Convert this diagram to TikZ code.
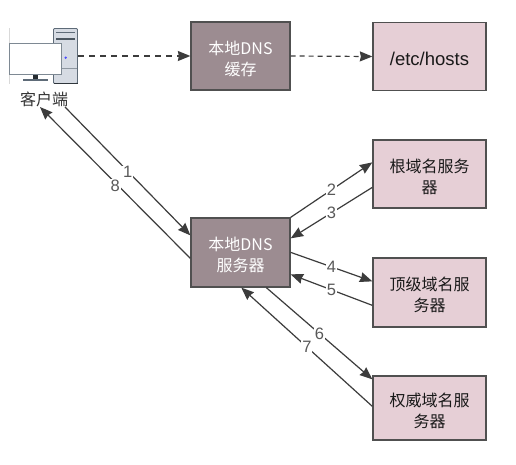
\documentclass[tikz,border=0pt]{standalone}
\usepackage{fontspec}
\setmainfont{Liberation Sans}
\newfontfamily\cjk{Noto Sans CJK SC}
\usetikzlibrary{arrows.meta,calc}
\definecolor{darkbox}{HTML}{9C8C91}
\definecolor{lightbox}{HTML}{E6CFD6}
\definecolor{edge}{HTML}{505050}
\definecolor{wire}{HTML}{3C3C3C}
\definecolor{tower}{HTML}{D6DBE3}
\definecolor{iconline}{HTML}{5E6B78}
\newcommand{\dropstrut}{\rule{0pt}{19pt}}
\tikzset{
  x=1pt,y=-1pt,
  dark/.style={draw=edge,line width=1.3pt,fill=darkbox,text=white,minimum width=99pt,minimum height=68pt,align=center,font=\cjk\fontsize{16}{21}\selectfont,inner sep=0pt},
  light/.style={draw=edge,line width=1.3pt,fill=lightbox,text=black!90,minimum width=113pt,minimum height=68pt,align=center,font=\cjk\fontsize{16}{21}\selectfont,inner sep=0pt},
  conn/.style={draw=wire,line width=1.2pt,-{Stealth[length=12.5pt,width=10pt,inset=1pt]}},
  dconn/.style={conn,dash pattern=on 6pt off 5pt},
  num/.style={fill=white,inner sep=0.8pt,text=black!65,font=\fontsize{16.5}{18}\selectfont},
}
\begin{document}
\begin{tikzpicture}
\useasboundingbox (0,0) rectangle (516,464);
\fill[white] (0,0) rectangle (516,464);
% client icon
\fill[black!15] (8.5,28) rectangle (9.5,84);
\draw[draw=iconline,fill=tower,line width=0.9pt,rounded corners=1pt] (53.5,28.5) rectangle (77.5,83.5);
\draw[iconline,line width=1pt] (56,32) -- (75,32);
\draw[iconline!80!black,line width=2.2pt] (56,39) -- (75,39);
\draw[iconline!70,line width=.6pt] (61,68.5) -- (77,68.5);
\draw[iconline!50!black,line width=1.3pt] (53.5,83.5) -- (77.5,83.5);
\fill[blue!70!white] (65.7,57.7) circle (1.3);
\fill[iconline!40!black] (32.5,74) rectangle (38,79.5);
\draw[iconline,line width=1.2pt] (23,80) -- (48,80);
\draw[draw=iconline!80,fill=white,line width=1pt] (9.5,43.5) rectangle (61,74);
\node[inner sep=0pt,font=\cjk\fontsize{16}{18}\selectfont,text=black!80] (client) at (44,99) {客户端};
\coordinate (iconr) at (78,56);
\coordinate (ca) at (65,107);
\coordinate (cb) at (40,107);
% boxes
\node[dark] (cache) at (240.5,56) {\dropstrut 本地DNS\\缓存};
\node[light,font=\fontsize{18.5}{20}\selectfont] (hosts) at (429.5,56.5) {\rule{0pt}{18.5pt}/etc/hosts};
\node[dark,minimum height=69pt] (srv) at (240.5,252.5) {\dropstrut 本地DNS\\服务器};
\node[light] (root) at (429.5,174) {\dropstrut 根域名服务\\器};
\node[light,minimum height=69pt] (tld) at (429.5,292.5) {\dropstrut 顶级域名服\\务器};
\node[light,minimum height=64pt] (auth) at (429.5,408) {\dropstrut 权威域名服\\务器};
% connectors
\draw[dconn] (iconr) -- (cache.west);
\draw[dconn,dash pattern=on 5pt off 4pt] (cache.east) -- (hosts.west);
\draw[conn] (ca) -- ($(srv.north west)+(0,18)$) node[pos=.5,num,yshift=-1pt] {1};
\draw[conn] ($(srv.north west)+(0,41)$) -- (cb) node[pos=.5,num,yshift=-3pt] {8};
\draw[conn] (srv.north east) -- ($(root.north west)+(0,23)$) node[pos=.5,num] {2};
\draw[conn] ($(root.north west)+(0,48)$) -- ($(srv.north east)+(0,21)$) node[pos=.5,num] {3};
\draw[conn] ($(srv.north east)+(0,35)$) -- ($(tld.north west)+(0,24)$) node[pos=.5,num] {4};
\draw[conn] ($(tld.north west)+(0,48)$) -- ($(srv.north east)+(0,57)$) node[pos=.5,num] {5};
\draw[conn] ($(srv.south west)+(76,0)$) -- ($(auth.north west)+(0,4)$) node[pos=.5,num] {6};
\draw[conn] ($(auth.north west)+(0,31)$) -- ($(srv.south west)+(51,0)$) node[pos=.5,num] {7};
\end{tikzpicture}
\end{document}
